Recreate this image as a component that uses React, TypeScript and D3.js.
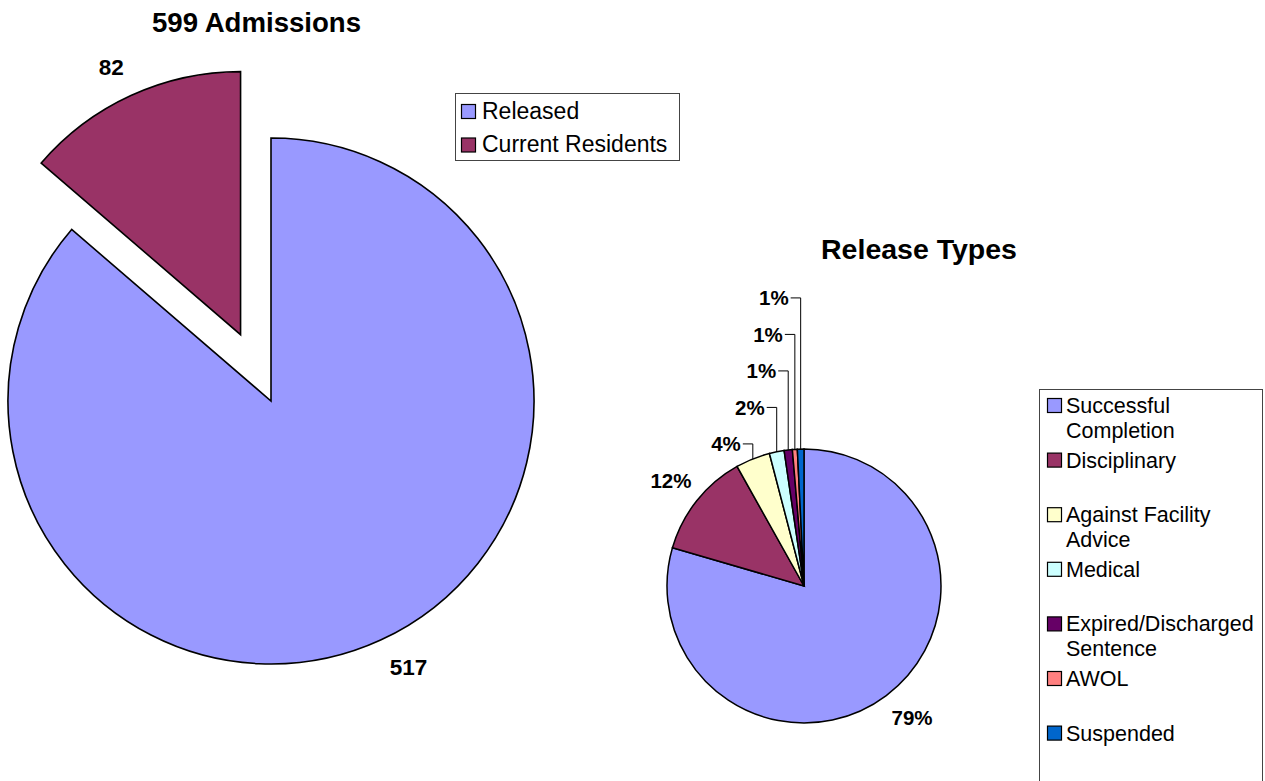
import React from 'react';
import * as d3 from 'd3';

// admissions pie
const admissionLabels = ['Released', 'Current Residents'];
const admissionValues = [517, 82];
const admissionColors = ['#9999FF', '#993366'];

// release types pie
const releaseLabels = [
  ['Successful', 'Completion'],
  ['Disciplinary'],
  ['Against Facility', 'Advice'],
  ['Medical'],
  ['Expired/Discharged', 'Sentence'],
  ['AWOL'],
  ['Suspended'],
];
const releaseValues = [411, 64, 21, 9, 5, 3, 4];
const releaseColors = ['#9999FF', '#993366', '#FFFFCC', '#CCFFFF', '#660066', '#FF8080', '#0066CC'];

const FONT = '"Liberation Sans", Arial, Helvetica, sans-serif';

const LeftPie = () => {
  const cx = 271, cy = 401, r = 263;
  const explode = 73;
  const arcs = d3.pie<number>().sort(null).value(d => d)(admissionValues);
  const arc = d3.arc<d3.PieArcDatum<number>>().innerRadius(0).outerRadius(r);

  return (
    <g>
      {arcs.map((a, i) => {
        const mid = (a.startAngle + a.endAngle) / 2;
        const off = i === 1 ? explode : 0;
        const ox = cx + off * Math.sin(mid);
        const oy = cy - off * Math.cos(mid);
        const lr = r + 33;
        const lx = ox + lr * Math.sin(mid);
        const ly = oy - lr * Math.cos(mid);
        return (
          <g key={i}>
            <path d={arc(a) || ''} transform={`translate(${ox},${oy})`}
              fill={admissionColors[i]} stroke="#000" strokeWidth={1.6} strokeLinejoin="miter" />
            <text x={lx + (i === 0 ? 14 : -6)} y={ly + (i === 0 ? -3 : 2)} dy="0.35em" textAnchor="middle"
              fontFamily={FONT} fontWeight="bold" fontSize={22.5}>{a.data}</text>
          </g>
        );
      })}
      <text x={256.5} y={32} textAnchor="middle" fontFamily={FONT} fontWeight="bold" fontSize={27.6}>
        {d3.sum(admissionValues)} Admissions
      </text>
      {/* legend */}
      <rect x={455.5} y={93.5} width={224} height={67} fill="#fff" stroke="#444" strokeWidth={1} />
      {admissionLabels.map((l, i) => (
        <g key={l}>
          <rect x={461.5} y={104.5 + i * 33.5} width={14} height={14} fill={admissionColors[i]} stroke="#000" strokeWidth={1.2} />
          <text x={482} y={118.5 + i * 33.5} fontFamily={FONT} fontSize={23}>{l}</text>
        </g>
      ))}
    </g>
  );
};

const RightPie = () => {
  const cx = 804, cy = 586, r = 137;
  const total = d3.sum(releaseValues);
  const arcs = d3.pie<number>().sort(null).value(d => d)(releaseValues);
  const arc = d3.arc<d3.PieArcDatum<number>>().innerRadius(0).outerRadius(r);
  const pct = d3.format('.0%');

  // label layout: big slices outside at mid-angle, small slices stacked upward with leaders
  let prevY = Infinity;
  const labels = arcs.map((a, i) => {
    const mid = (a.startAngle + a.endAngle) / 2;
    const span = a.endAngle - a.startAngle;
    const ax = cx + r * Math.sin(mid);
    const ay = cy - r * Math.cos(mid);
    if (span > 0.35) {
      const lr = r + 33;
      return { i, text: pct(a.data / total), x: cx + lr * Math.sin(mid) + (i === 0 ? 6 : 0), y: cy - lr * Math.cos(mid) + (i === 0 ? -4 : 1), anchor: 'middle', leader: null as null | string };
    }
    const ly = Math.min(ay - 15, prevY - 36.5);
    prevY = ly;
    const tx = ax - 12;
    const leader = `M${tx + 2},${ly} L${ax},${ly} L${ax},${ay}`;
    return { i, text: pct(a.data / total), x: tx, y: ly, anchor: 'end', leader };
  });

  return (
    <g>
      {arcs.map((a, i) => (
        <path key={i} d={arc(a) || ''} transform={`translate(${cx},${cy})`}
          fill={releaseColors[i]} stroke="#000" strokeWidth={1.5} />
      ))}
      {labels.map(l => (
        <g key={l.i}>
          {l.leader && <path d={l.leader} fill="none" stroke="#000" strokeWidth={1} />}
          <text x={l.x} y={l.y} dy="0.35em" textAnchor={l.anchor as any}
            fontFamily={FONT} fontWeight="bold" fontSize={20.5}>{l.text}</text>
        </g>
      ))}
      <text x={919} y={259} textAnchor="middle" fontFamily={FONT} fontWeight="bold" fontSize={28.5}>Release Types</text>
      {/* legend */}
      <rect x={1039.5} y={389.5} width={223} height={420} fill="#fff" stroke="#444" strokeWidth={1} />
      {releaseLabels.map((lines, i) => {
        const by = 413 + i * 54.6;
        return (
          <g key={i}>
            <rect x={1047.5} y={by - 14.5} width={14} height={14} fill={releaseColors[i]} stroke="#000" strokeWidth={1.2} />
            {lines.map((t, j) => (
              <text key={j} x={1066} y={by + j * 24.5} fontFamily={FONT} fontSize={21.5}>{t}</text>
            ))}
          </g>
        );
      })}
    </g>
  );
};

export default function App() {
  return (
    <svg width={1265} height={781} style={{ position: 'absolute', left: 0, top: 0, background: '#fff' }}>
      <rect width={1265} height={781} fill="#fff" />
      <LeftPie />
      <RightPie />
    </svg>
  );
}
